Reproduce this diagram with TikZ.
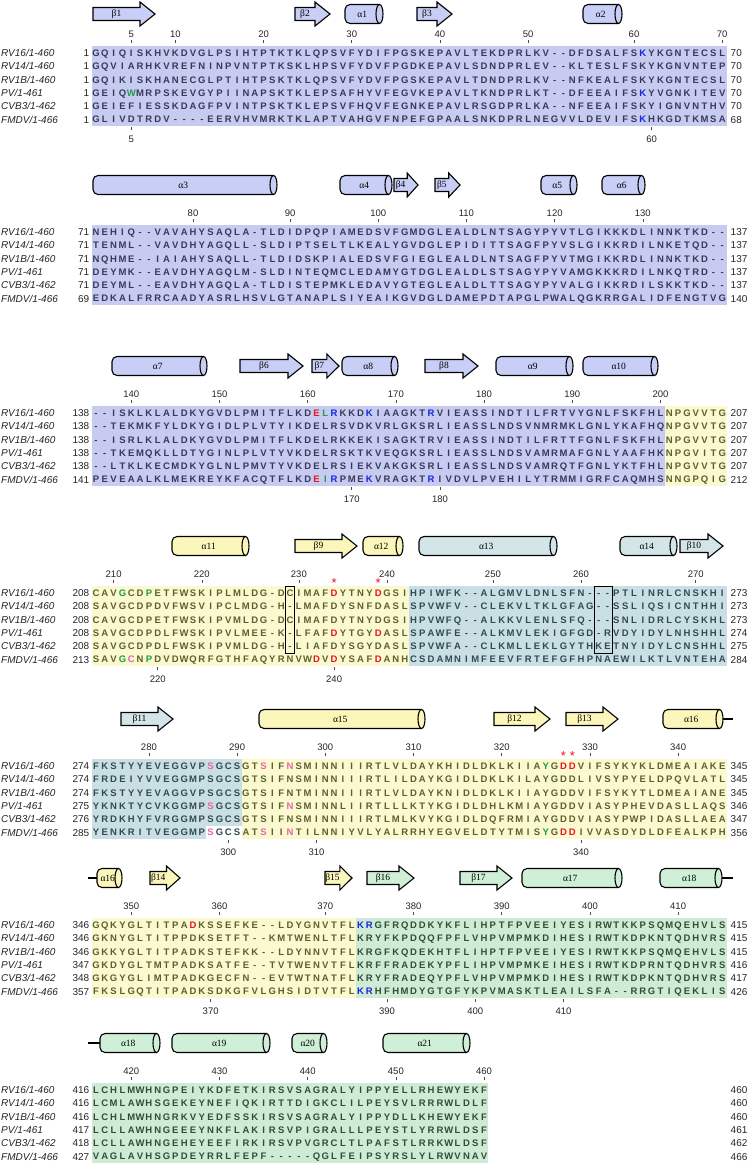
\documentclass[tikz,border=0pt]{standalone}
\usepackage{fontspec}
\setmainfont{Liberation Sans}
\newfontfamily\ssfont{Liberation Serif}
\definecolor{bglav}{HTML}{C7CBEF}
\definecolor{bgyel}{HTML}{FBF9D0}
\definecolor{bggry}{HTML}{CADFE3}
\definecolor{bggrn}{HTML}{CFEBD5}
\definecolor{sslav}{HTML}{C8CEF6}
\definecolor{ssyel}{HTML}{FBF6B9}
\definecolor{ssgry}{HTML}{D4E5EA}
\definecolor{ssgrn}{HTML}{CFF0D7}
\definecolor{txlav}{HTML}{37385C}
\definecolor{txyel}{HTML}{5F5F2C}
\definecolor{txgry}{HTML}{304A52}
\definecolor{txgrn}{HTML}{2F4D37}
\definecolor{hlred}{HTML}{E8141E}
\definecolor{hlgrn}{HTML}{1E9E46}
\definecolor{hlblu}{HTML}{1428E0}
\definecolor{hlpnk}{HTML}{E466A8}
\newcount\sqcc
\def\sqhl{}
\def\sqparse#1{\ifx#1\relax\else\sqone#1\expandafter\sqparse\fi}
\def\sqone#1{%
  \if r#1\def\sqhl{hlred}\else
  \if g#1\def\sqhl{hlgrn}\else
  \if b#1\def\sqhl{hlblu}\else
  \if p#1\def\sqhl{hlpnk}\else
    \global\advance\sqcc by 1
    \ifx\sqhl\empty
      \ifnum\sqcc>\sqsplit\relax\edef\sqtc{\sqcolB}\else\edef\sqtc{\sqcolA}\fi
    \else\edef\sqtc{\sqhl}\fi
    \node[res,text=\sqtc] at ({96+8.82*(\the\sqcc-1)},{\sqy+3.4}) {#1};%
    \def\sqhl{}%
  \fi\fi\fi\fi}
\newcommand\putseq[5]{\global\sqcc=0 \def\sqy{#1}\def\sqcolA{#2}\def\sqsplit{#3}\def\sqcolB{#4}\def\sqhl{}\sqparse#5\relax}
\newcommand\seqrow[8]{%
  \node[nm] at (1,{\Y+13.3*#1+3.5}) {#2};
  \node[lnum] at (89.5,{\Y+13.3*#1+3.5}) {#3};
  \node[rnum] at (730.5,{\Y+13.3*#1+3.5}) {#4};
  \putseq{\Y+13.3*#1}{#5}{#6}{#7}{#8}}
\newcommand\bgr[5]{\fill[#1] ({91.59+8.82*(#2-1)},{\Y-6.65+13.3*#4}) rectangle ({91.59+8.82*#3},{\Y+6.65+13.3*#5});}
\newcommand\ttk[2]{\draw[tk] ({96+8.82*(#1-1)},{\Y-13}) -- ++(0,3);
  \node[tl] at ({96+8.82*(#1-1)},{\Y-15.5}) {#2};}
\newcommand\btk[2]{\draw[tk] ({96+8.82*(#1-1)},{\Y+74}) -- ++(0,3);
  \node[tl] at ({96+8.82*(#1-1)},{\Y+89}) {#2};}
\newcommand\strand[4]{%
  \pgfmathsetmacro\hx{#2-min(15,0.45*(#2-#1))}
  \draw[ssl,fill=#3] ({#1},{\S-6.5}) -- (\hx,{\S-6.5}) -- (\hx,{\S-12}) -- ({#2},{\S}) -- (\hx,{\S+12}) -- (\hx,{\S+6.5}) -- ({#1},{\S+6.5}) -- cycle;
  \node[ssn] at ({(#1+\hx)/2},{\S}) {#4};}
\newcommand\helix[4]{%
  \draw[ssl,fill=#3,rounded corners=5bp] ({#2-3.5},{\S-9.5}) -- ({#1},{\S-9.5}) -- ({#1},{\S+9.5}) -- ({#2-3.5},{\S+9.5});
  \draw[ssl,fill=#3] ({#2-3.5},{\S}) ellipse [x radius=3.5, y radius=9.5];
  \node[ssn] at ({(#1+#2-3.5)/2},{\S}) {#4};}
\newcommand\astk[2]{\node[font=\fontsize{13bp}{13bp}\selectfont, text=hlred, inner sep=0, anchor=base] at ({96+8.82*(#1-1)},{\Y+#2}) {*};}
\newcommand\cbox[3]{\draw[line width=0.6bp] ({91.59+8.82*(#1-1)},{\Y-6.65}) rectangle ({91.59+8.82*#2},{\Y+6.65+13.3*#3});}
\begin{document}
\begin{tikzpicture}[x=1bp,y=-1bp,
  res/.style={font=\fontsize{9.5bp}{9.5bp}\selectfont\bfseries, inner sep=0, anchor=base},
  nm/.style={font=\fontsize{10bp}{10bp}\selectfont\itshape, text=black!85, inner sep=0, anchor=base west},
  lnum/.style={font=\fontsize{10bp}{10bp}\selectfont, text=black!85, inner sep=0, anchor=base east},
  rnum/.style={font=\fontsize{10bp}{10bp}\selectfont, text=black!85, inner sep=0, anchor=base west},
  tl/.style={font=\fontsize{9.5bp}{9.5bp}\selectfont, text=black!85, inner sep=0, anchor=base},
  tk/.style={line width=0.6bp, draw=black!70},
  ssl/.style={draw=black, line width=1.1bp},
  ssn/.style={font=\ssfont\fontsize{9.5bp}{9.5bp}\selectfont, inner sep=0}]
\useasboundingbox (0,0) rectangle (748,1165);
\fill[white] (0,0) rectangle (748,1165);
% ---------------- block 1
\def\Y{53}\def\S{14}
\bgr{bglav}{1}{72}{0}{5}
\strand{93}{155}{sslav}{β1}
\strand{295}{330}{sslav}{β2}
\helix{345}{383}{sslav}{α1}
\strand{417}{452}{sslav}{β3}
\helix{583}{622}{sslav}{α2}
\ttk{5}{5}\ttk{10}{10}\ttk{20}{20}\ttk{30}{30}\ttk{40}{40}\ttk{50}{50}\ttk{62}{60}\ttk{72}{70}
\btk{5}{5}\btk{64}{60}
\seqrow{0}{RV16/1-460}{1}{70}{txlav}{72}{txlav}{GQIQISKHVKDVGLPSIHTPTKTKLQPSVFYDIFPGSKEPAVLTEKDPRLKV--DFDSALFSbKYKGNTECSL}
\seqrow{1}{RV14/1-460}{1}{70}{txlav}{72}{txlav}{GQVIARHKVREFNINPVNTPTKSKLHPSVFYDVFPGDKEPAVLSDNDPRLEV--KLTESLFSKYKGNVNTEP}
\seqrow{2}{RV1B/1-460}{1}{70}{txlav}{72}{txlav}{GQIKISKHANECGLPTIHTPSKTKLQPSVFYDVFPGSKEPAVLTDNDPRLKV--NFKEALFSKYKGNTECSL}
\seqrow{3}{PV/1-461}{1}{70}{txlav}{72}{txlav}{GEIQgWMRPSKEVGYPIINAPSKTKLEPSAFHYVFEGVKEPAVLTKNDPRLKT--DFEEAIFSbKYVGNKITEV}
\seqrow{4}{CVB3/1-462}{1}{70}{txlav}{72}{txlav}{GEIEFIESSKDAGFPVINTPSKTKLEPSVFHQVFEGNKEPAVLRSGDPRLKA--NFEEAIFSKYIGNVNTHV}
\seqrow{5}{FMDV/1-466}{1}{68}{txlav}{72}{txlav}{GLIVDTRDV----EERVHVMRKTKLAPTVAHGVFNPEFGPAALSNKDPRLNEGVVLDEVIFSbKHKGDTKMSA}
% ---------------- block 2
\def\Y{232}\def\S{185}
\bgr{bglav}{1}{72}{0}{5}
\helix{93}{277}{sslav}{α3}
\helix{340}{392}{sslav}{α4}
\strand{394}{418}{sslav}{β4}
\strand{435}{460}{sslav}{β5}
\helix{541}{577}{sslav}{α5}
\helix{602}{645}{sslav}{α6}
\ttk{12}{80}\ttk{23}{90}\ttk{33}{100}\ttk{43}{110}\ttk{53}{120}\ttk{63}{130}
\seqrow{0}{RV16/1-460}{71}{137}{txlav}{72}{txlav}{NEHIQ--VAVAHYSAQLA-TLDIDPQPIAMEDSVFGMDGLEALDLNTSAGYPYVTLGIKKKDLINNKTKD--}
\seqrow{1}{RV14/1-460}{71}{137}{txlav}{72}{txlav}{TENML--VAVDHYAGQLL-SLDIPTSELTLKEALYGVDGLEPIDITTSAGFPYVSLGIKKRDILNKETQD--}
\seqrow{2}{RV1B/1-460}{71}{137}{txlav}{72}{txlav}{NQHME--IAIAHYSAQLL-TLDIDSKPIALEDSVFGIEGLEALDLNTSAGFPYVTMGIKKRDLINNKTKD--}
\seqrow{3}{PV/1-461}{71}{137}{txlav}{72}{txlav}{DEYMK--EAVDHYAGQLM-SLDINTEQMCLEDAMYGTDGLEALDLSTSAGYPYVAMGKKKRDILNKQTRD--}
\seqrow{4}{CVB3/1-462}{71}{137}{txlav}{72}{txlav}{DEYML--EAVDHYAGQLA-TLDISTEPMKLEDAVYGTEGLEALDLTTSAGYPYVALGIKKRDILSKKTKD--}
\seqrow{5}{FMDV/1-466}{69}{140}{txlav}{72}{txlav}{EDKALFRRCAADYASRLHSVLGTANAPLSIYEAIKGVDGLDAMEPDTAPGLPWALQGKRRGALIDFENGTVG}
% ---------------- block 3
\def\Y{413}\def\S{366}
\bgr{bglav}{1}{65}{0}{5}\bgr{bgyel}{66}{72}{0}{5}
\helix{112}{207}{sslav}{α7}
\strand{240}{303}{sslav}{β6}
\strand{312}{339}{sslav}{β7}
\helix{342}{398}{sslav}{α8}
\strand{425}{478}{sslav}{β8}
\helix{496}{573}{sslav}{α9}
\helix{583}{658}{sslav}{α10}
\ttk{5}{140}\ttk{15}{150}\ttk{25}{160}\ttk{35}{170}\ttk{45}{180}\ttk{55}{190}\ttk{65}{200}
\btk{30}{170}\btk{40}{180}
\seqrow{0}{RV16/1-460}{138}{207}{txlav}{65}{txyel}{--ISKLKLALDKYGVDLPMITFLKDrEgLbRKKDbKIAAGKTbRVIEASSINDTILFRTVYGNLFSKFHLNPGVVTG}
\seqrow{1}{RV14/1-460}{138}{207}{txlav}{65}{txyel}{--TEKMKFYLDKYGIDLPLVTYIKDELRSVDKVRLGKSRLIEASSLNDSVNMRMKLGNLYKAFHQNPGVVTG}
\seqrow{2}{RV1B/1-460}{138}{207}{txlav}{65}{txyel}{--ISRLKLALDKYGVDLPMITFLKDELRKKEKISAGKTRVIEASSINDTILFRTTFGNLFSKFHLNPGVVTG}
\seqrow{3}{PV/1-461}{138}{207}{txlav}{65}{txyel}{--TKEMQKLLDTYGINLPLVTYVKDELRSKTKVEQGKSRLIEASSLNDSVAMRMAFGNLYAAFHKNPGVITG}
\seqrow{4}{CVB3/1-462}{138}{207}{txlav}{65}{txyel}{--LTKLKECMDKYGLNLPMVTYVKDELRSIEKVAKGKSRLIEASSLNDSVAMRQTFGNLYKTFHLNPGVVTG}
\seqrow{5}{FMDV/1-466}{141}{212}{txlav}{65}{txyel}{PEVEAALKLMEKREYKFACQTFLKDrEgIbRPMEbKVRAGKTbRIVDVLPVEHILYTRMMIGRFCAQMHSNNGPQIG}
% ---------------- block 4
\def\Y{593}\def\S{546}
\bgr{bgyel}{1}{36}{0}{5}\bgr{bggry}{37}{72}{0}{5}
\helix{172}{249}{ssyel}{α11}
\strand{295}{357}{ssyel}{β9}
\helix{363}{403}{ssyel}{α12}
\helix{419}{557}{ssgry}{α13}
\helix{620}{677}{ssgry}{α14}
\strand{680}{723}{ssgry}{β10}
\ttk{3}{210}\ttk{13}{220}\ttk{24}{230}\ttk{34}{240}\ttk{46}{250}\ttk{56}{260}\ttk{69}{270}
\btk{8}{220}\btk{28}{240}
\astk{28}{-6}\astk{33}{-6}
\seqrow{0}{RV16/1-460}{208}{273}{txyel}{36}{txgry}{CAVgGCDgPETFWSKIPLMLDG-DCIMAFrDYTNYrDGSIHPIWFK--ALGMVLDNLSFN---PTLINRLCNSKHI}
\seqrow{1}{RV14/1-460}{208}{273}{txyel}{36}{txgry}{SAVGCDPDVFWSVIPCLMDG-H-LMAFDYSNFDASLSPVWFV--CLEKVLTKLGFAG--SSLIQSICNTHHI}
\seqrow{2}{RV1B/1-460}{208}{273}{txyel}{36}{txgry}{CAVGCDPETFWSKIPVMLDG-DCIMAFDYTNYDGSIHPVWFQ--ALKKVLENLSFQ---SNLIDRLCYSKHL}
\seqrow{3}{PV/1-461}{208}{274}{txyel}{36}{txgry}{SAVGCDPDLFWSKIPVLMEE-K-LFAFrDYTGYrDASLSPAWFE--ALKMVLEKIGFGD-RVDYIDYLNHSHHL}
\seqrow{4}{CVB3/1-462}{208}{275}{txyel}{36}{txgry}{SAVGCDPDLFWSKIPVMLDG-H-LIAFDYSGYDASLSPVWFA--CLKMLLEKLGYTHKETNYIDYLCNSHHL}
\seqrow{5}{FMDV/1-466}{213}{284}{txyel}{36}{txgry}{SAVgGpCNgPDVDWQRFGTHFAQYRNVWrDVrDYSAFrDANHCSDAMNIMFEEVFRTEFGFHPNAEWILKTLVNTEHA}
\cbox{23}{23}{4}\cbox{58}{59}{4}
% ---------------- block 5
\def\Y{766}\def\S{719}
\bgr{bggry}{1}{17}{0}{4}\bgr{bggry}{1}{13}{5}{5}\bgr{bgyel}{18}{72}{0}{5}
\strand{121}{173}{ssgry}{β11}
\helix{259}{425}{ssyel}{α15}
\strand{494}{550}{ssyel}{β12}
\strand{566}{618}{ssyel}{β13}
\draw[ssl] (723,\S) -- (733,\S);
\helix{663}{723}{ssyel}{α16}
\ttk{7}{280}\ttk{17}{290}\ttk{27}{300}\ttk{37}{310}\ttk{47}{320}\ttk{57}{330}\ttk{67}{340}
\btk{16}{300}\btk{26}{310}\btk{56}{340}
\astk{54}{-6}\astk{55}{-6}
\seqrow{0}{RV16/1-460}{274}{345}{txgry}{17}{txyel}{FKSTYYEVEGGVPpSGCSGTpSIFpNSMINNIIIRTLVLDAYKHIDLDKLKIIAgYGrDrDVIFSYKYKLDMEAIAKE}
\seqrow{1}{RV14/1-460}{274}{345}{txgry}{17}{txyel}{FRDEIYVVEGGMPSGCSGTSIFNSMINNIIIRTLILDAYKGIDLDKLKILAYGDDLIVSYPYELDPQVLATL}
\seqrow{2}{RV1B/1-460}{274}{345}{txgry}{17}{txyel}{FKSTYYEVAGGVPSGCSGTSIFNTMINNIIIRTLVLDAYKNIDLDKLKIIAYGDDVIFSYKYTLDMEAIANE}
\seqrow{3}{PV/1-461}{275}{346}{txgry}{17}{txyel}{YKNKTYCVKGGMPpSGCSGTSIFpNSMINNLIIRTLLLKTYKGIDLDHLKMIAYGDDVIASYPHEVDASLLAQS}
\seqrow{4}{CVB3/1-462}{276}{347}{txgry}{17}{txyel}{YRDKHYFVRGGMPSGCSGTSIFNSMINNIIIRTLMLKVYKGIDLDQFRMIAYGDDVIASYPWPIDASLLAEA}
\seqrow{5}{FMDV/1-466}{285}{356}{txgry}{17}{txyel}{YENKRITVEGGMPpSGCSATpSIIpNTILNNIYVLYALRRHYEGVELDTYTMISgYGrDrDIVVASDYDLDFEALKPH}
% ---------------- block 6
\def\Y{925}\def\S{878}
\bgr{bgyel}{1}{30}{0}{5}\bgr{bggrn}{31}{72}{0}{5}
\draw[ssl] (88,\S) -- (97,\S);
\helix{97}{122}{ssyel}{α16}
\strand{150}{180}{ssyel}{β14}
\strand{325}{352}{ssyel}{β15}
\strand{367}{414}{ssgrn}{β16}
\strand{460}{512}{ssgrn}{β17}
\helix{522}{622}{ssgrn}{α17}
\draw[ssl] (722,\S) -- (733,\S);
\helix{660}{722}{ssgrn}{α18}
\ttk{5}{350}\ttk{15}{360}\ttk{27}{370}\ttk{37}{380}\ttk{47}{390}\ttk{57}{400}\ttk{67}{410}
\btk{14}{370}\btk{34}{390}\btk{44}{400}\btk{54}{410}
\seqrow{0}{RV16/1-460}{346}{415}{txyel}{30}{txgrn}{GQKYGLTITPArDKSSEFKE--LDYGNVTFLbKbRGFRQDDKYKFLIHPTFPVEEIYESIRWTKKPSQMQEHVLS}
\seqrow{1}{RV14/1-460}{346}{415}{txyel}{30}{txgrn}{GKNYGLTITPPDKSETFT--KMTWENLTFLKRYFKPDQQFPFLVHPVMPMKDIHESIRWTKDPKNTQDHVRS}
\seqrow{2}{RV1B/1-460}{346}{415}{txyel}{30}{txgrn}{GKKYGLTITPADKSTEFKK--LDYNNVTFLKRGFKQDEKHTFLIHPTFPVEEIYESIRWTKKPSQMQEHVLS}
\seqrow{3}{PV/1-461}{347}{416}{txyel}{30}{txgrn}{GKDYGLTMTPADKSATFE--TVTWENVTFLKRFFRADEKYPFLIHPVMPMKEIHESIRWTKDPRNTQDHVRS}
\seqrow{4}{CVB3/1-462}{348}{417}{txyel}{30}{txgrn}{GKGYGLIMTPADKGECFN--EVTWTNATFLKRYFRADEQYPFLVHPVMPMKDIHESIRWTKDPKNTQDHVRS}
\seqrow{5}{FMDV/1-466}{357}{426}{txyel}{30}{txgrn}{FKSLGQTITPADKSDKGFVLGHSIDTVTFLbKbRHFHMDYGTGFYKPVMASKTLEAILSFA--RRGTIQEKLIS}
% ---------------- block 7
\def\Y{1090}\def\S{1043}
\bgr{bggrn}{1}{45}{0}{5}
\draw[ssl] (88,\S) -- (100,\S);
\helix{100}{160}{ssgrn}{α18}
\helix{172}{270}{ssgrn}{α19}
\helix{292}{327}{ssgrn}{α20}
\helix{383}{470}{ssgrn}{α21}
\ttk{5}{420}\ttk{15}{430}\ttk{25}{440}\ttk{35}{450}\ttk{45}{460}
\seqrow{0}{RV16/1-460}{416}{460}{txgrn}{72}{txgrn}{LCHLMWHNGPEIYKDFETKIRSVSAGRALYIPPYELLRHEWYEKF}
\seqrow{1}{RV14/1-460}{416}{460}{txgrn}{72}{txgrn}{LCMLAWHSGEKEYNEFIQKIRTTDIGKCLILPEYSVLRRRWLDLF}
\seqrow{2}{RV1B/1-460}{416}{460}{txgrn}{72}{txgrn}{LCHLMWHNGRKVYEDFSSKIRSVSAGRALYIPPYDLLKHEWYEKF}
\seqrow{3}{PV/1-461}{417}{461}{txgrn}{72}{txgrn}{LCLLAWHNGEEEYNKFLAKIRSVPIGRALLLPEYSTLYRRWLDSF}
\seqrow{4}{CVB3/1-462}{418}{462}{txgrn}{72}{txgrn}{LCLLAWHNGEHEYEEFIRKIRSVPVGRCLTLPAFSTLRRKWLDSF}
\seqrow{5}{FMDV/1-466}{427}{466}{txgrn}{72}{txgrn}{VAGLAVHSGPDEYRRLFEPF-----QGLFEIPSYRSLYLRWVNAV}
\end{tikzpicture}
\end{document}
